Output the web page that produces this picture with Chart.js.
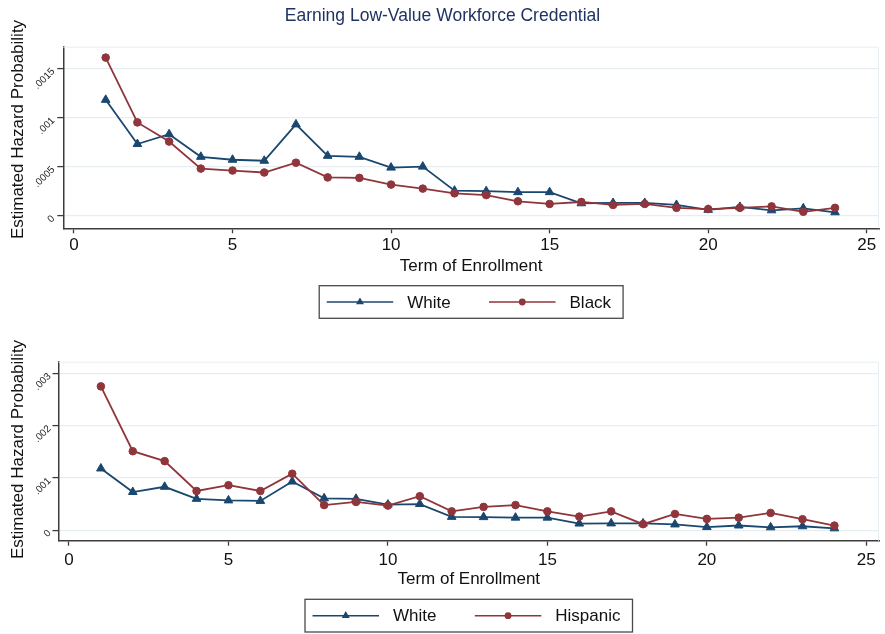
<!DOCTYPE html>
<html>
<head>
<meta charset="utf-8">
<script src="https://cdn.jsdelivr.net/npm/chart.js@4.4.1/dist/chart.umd.min.js"></script>
<style>
  html, body { margin: 0; padding: 0; background: #ffffff; }
  #wrap { position: relative; width: 885px; height: 634px; overflow: hidden; background: #ffffff; }
  #wrap canvas { position: absolute; left: 0; }
  #topChart { top: 0; }
  #bottomChart { top: 325px; }
</style>
</head>
<body>
<div id="wrap">
  <canvas id="topChart" width="885" height="325"></canvas>
  <canvas id="bottomChart" width="885" height="309"></canvas>
</div>
<script>
// Term of enrollment (x values)
const terms = [1, 2, 3, 4, 5, 6, 7, 8, 9, 10, 11, 12, 13, 14, 15, 16, 17, 18, 19, 20, 21, 22, 23, 24];

// Estimated hazard of earning a low-value workforce credential, by term
const whiteHazard = [0.00118, 0.00073, 0.00083, 0.00060, 0.00057, 0.00056, 0.00093, 0.00061,
                     0.00060, 0.00049, 0.00050, 0.000255, 0.00025, 0.00024, 0.00024, 0.000127,
                     0.00013, 0.00013, 0.00011, 0.00006, 0.00009, 0.000055, 0.000075, 0.000035];
const blackHazard = [0.00161, 0.00095, 0.000755, 0.00048, 0.00046, 0.00044, 0.00054, 0.00039,
                     0.000385, 0.000317, 0.000276, 0.000228, 0.00021, 0.000147, 0.00012, 0.00014,
                     0.00011, 0.00012, 0.00008, 0.000068, 0.00008, 0.000095, 0.00004, 0.00008];
const hispanicHazard = [0.00275, 0.00151, 0.00132, 0.00075, 0.00086, 0.00075, 0.00108, 0.00048,
                        0.00054, 0.00047, 0.00065, 0.00036, 0.000445, 0.00048, 0.00036, 0.00026,
                        0.00036, 0.000115, 0.00031, 0.000216, 0.00024, 0.00033, 0.00021, 0.000088];

// Axis ticks
const xTicks = [0, 5, 10, 15, 20, 25];
const yTicksTop = [0, 0.0005, 0.001, 0.0015];
const yTicksBottom = [0, 0.001, 0.002, 0.003];

// Text
const mainTitle = 'Earning Low-Value Workforce Credential';
const xTitle = 'Term of Enrollment';
const yTitle = 'Estimated Hazard Probability';
const labelWhite = 'White';
const labelBlack = 'Black';
const labelHispanic = 'Hispanic';

// Styling
const FONT = '"Liberation Sans", Arial, Helvetica, sans-serif';
const NAVY = '#1a476f';
const MAROON = '#90353b';
const AXIS = '#3c3c3c';
const GRID = '#e6eef1';
const TEXT = '#111111';
const TITLE_COLOR = '#1f3261';

// Stata-style number label: drop the leading zero (".0005")
function fmtY(v) {
  return v === 0 ? '0' : String(v).replace(/^0\./, '.');
}

function drawMarker(ctx, style, x, y, r, color) {
  ctx.fillStyle = color;
  ctx.beginPath();
  if (style === 'triangle') {
    for (let k = 0; k < 3; k++) {
      const a = k * 2 * Math.PI / 3;
      const px = x + Math.sin(a) * r;
      const py = y - Math.cos(a) * r;
      if (k === 0) ctx.moveTo(px, py); else ctx.lineTo(px, py);
    }
    ctx.closePath();
  } else {
    ctx.arc(x, y, r, 0, Math.PI * 2);
  }
  ctx.fill();
}

// Draws the rotated y labels, y title, main title, framed legend and plot outline
const decor = {
  id: 'decor',
  afterDraw(chart, args, o) {
    const { ctx, chartArea: ca, scales } = chart;
    ctx.save();

    // faint plot-region outline (top and right)
    ctx.strokeStyle = GRID;
    ctx.lineWidth = 1;
    ctx.beginPath();
    ctx.moveTo(ca.left, ca.top + 0.5);
    ctx.lineTo(ca.right - 0.5, ca.top + 0.5);
    ctx.lineTo(ca.right - 0.5, ca.bottom);
    ctx.stroke();

    // main title
    if (o.title) {
      ctx.fillStyle = TITLE_COLOR;
      ctx.font = '17.5px ' + FONT;
      ctx.textAlign = 'center';
      ctx.textBaseline = 'alphabetic';
      ctx.fillText(o.title, chart.width / 2, o.titleBaseline);
    }

    // y-axis tick labels at 45 degrees
    const ys = scales.y;
    ctx.fillStyle = '#222222';
    ctx.font = '10px ' + FONT;
    ctx.textAlign = 'right';
    ctx.textBaseline = 'middle';
    ys.ticks.forEach(t => {
      const py = ys.getPixelForValue(t.value);
      ctx.save();
      ctx.translate(ca.left - o.tickLabelGap, py + 1.5);
      ctx.rotate(-Math.PI / 4);
      ctx.fillText(fmtY(t.value), 0, 0);
      ctx.restore();
    });

    // y-axis title
    ctx.save();
    ctx.fillStyle = TEXT;
    ctx.font = '17px ' + FONT;
    ctx.textAlign = 'center';
    ctx.textBaseline = 'alphabetic';
    ctx.translate(o.yTitleX, o.yTitleY);
    ctx.rotate(-Math.PI / 2);
    ctx.fillText(yTitle, 0, 0);
    ctx.restore();

    // framed legend below the axis title
    const lg = o.legend;
    const sets = chart.data.datasets;
    ctx.font = '17px ' + FONT;
    const lastW = ctx.measureText(sets[1].label).width;
    const W = lg.padL + lg.colWidth + lg.lineLen + lg.gap + lastW + lg.padR;
    const x0 = (ca.left + ca.right) / 2 - W / 2;
    const cy = lg.top + lg.height / 2;
    ctx.strokeStyle = '#4a4a4a';
    ctx.lineWidth = 1.3;
    ctx.strokeRect(x0, lg.top, W, lg.height);
    sets.forEach((ds, i) => {
      const lx = x0 + lg.padL + i * lg.colWidth;
      ctx.strokeStyle = ds.borderColor;
      ctx.lineWidth = 1.5;
      ctx.beginPath();
      ctx.moveTo(lx, cy);
      ctx.lineTo(lx + lg.lineLen, cy);
      ctx.stroke();
      drawMarker(ctx, ds.pointStyle, lx + lg.lineLen / 2, cy, ds.pointStyle === 'triangle' ? 4.6 : 3.4, ds.borderColor);
      ctx.fillStyle = TEXT;
      ctx.textAlign = 'left';
      ctx.textBaseline = 'middle';
      ctx.fillText(ds.label, lx + lg.lineLen + lg.gap, cy + 1);
    });

    ctx.restore();
  }
};

function series(values) {
  return terms.map((t, i) => ({ x: t, y: values[i] }));
}

function makeChart(canvasId, cfg) {
  return new Chart(document.getElementById(canvasId), {
    type: 'line',
    data: {
      datasets: [
        {
          label: labelWhite,
          data: series(whiteHazard),
          borderColor: NAVY,
          backgroundColor: NAVY,
          pointBackgroundColor: NAVY,
          pointBorderColor: NAVY,
          borderWidth: 1.8,
          pointStyle: 'triangle',
          pointRadius: 5,
          pointBorderWidth: 1,
          tension: 0,
          order: 1
        },
        {
          label: cfg.otherLabel,
          data: series(cfg.otherValues),
          borderColor: MAROON,
          backgroundColor: MAROON,
          pointBackgroundColor: MAROON,
          pointBorderColor: MAROON,
          borderWidth: 1.8,
          pointStyle: 'circle',
          pointRadius: 3.8,
          pointBorderWidth: 1,
          tension: 0,
          order: 0
        }
      ]
    },
    options: {
      responsive: false,
      animation: false,
      devicePixelRatio: 1,
      layout: { padding: { top: cfg.padTop, left: 0, right: 5, bottom: cfg.padBottom } },
      plugins: {
        legend: { display: false },
        tooltip: { enabled: false },
        title: { display: false },
        decor: cfg.decor
      },
      scales: {
        x: {
          type: 'linear',
          min: cfg.xMin,
          max: cfg.xMax,
          afterBuildTicks: s => { s.ticks = xTicks.map(v => ({ value: v })); },
          afterFit: s => { s.height = cfg.xHeight; },
          grid: { display: true, drawOnChartArea: false, drawTicks: true, tickLength: 5, tickColor: AXIS, tickWidth: 1.3 },
          border: { display: true, color: AXIS, width: 1.5 },
          ticks: {
            padding: cfg.xTickPad, color: TEXT, autoSkip: false, maxRotation: 0,
            font: { size: 17, family: FONT },
            callback: v => String(v)
          },
          title: {
            display: true, text: xTitle, color: TEXT,
            font: { size: 17, family: FONT }, padding: { top: 0, bottom: 0 }
          }
        },
        y: {
          type: 'linear',
          min: cfg.yMin,
          max: cfg.yMax,
          afterBuildTicks: s => { s.ticks = cfg.yTicks.map(v => ({ value: v })); },
          afterFit: s => { s.width = cfg.yWidth; },
          grid: { color: GRID, lineWidth: 1.2, drawTicks: true, tickLength: 6, tickColor: AXIS, tickWidth: 1.3 },
          border: { display: true, color: AXIS, width: 1.5 },
          ticks: { display: false }
        }
      }
    },
    plugins: [decor]
  });
}

makeChart('topChart', {
  otherLabel: labelBlack,
  otherValues: blackHazard,
  yTicks: yTicksTop,
  yMin: -0.000128, yMax: 0.001721,
  xMin: -0.337, xMax: 25.387,
  padTop: 46.7, padBottom: 48.5,
  xHeight: 48.2, yWidth: 63.3, xTickPad: 1.8,
  decor: {
    title: mainTitle, titleBaseline: 20.7,
    yTitleX: 23, yTitleY: 129.5, tickLabelGap: 10,
    legend: { top: 285.7, height: 32.6, padL: 7.5, colWidth: 162.3, lineLen: 66.5, gap: 14, padR: 12 }
  }
});

makeChart('bottomChart', {
  otherLabel: labelHispanic,
  otherValues: hispanicHazard,
  yTicks: yTicksBottom,
  yMin: -0.000201, yMax: 0.003222,
  xMin: -0.329, xMax: 25.398,
  padTop: 36.7, padBottom: 44.3,
  xHeight: 49, yWidth: 58.5, xTickPad: 4,
  decor: {
    title: null,
    yTitleX: 23, yTitleY: 124.5, tickLabelGap: 9,
    legend: { top: 274.3, height: 32.7, padL: 7.5, colWidth: 162.3, lineLen: 66.5, gap: 14, padR: 12 }
  }
});
</script>
</body>
</html>
